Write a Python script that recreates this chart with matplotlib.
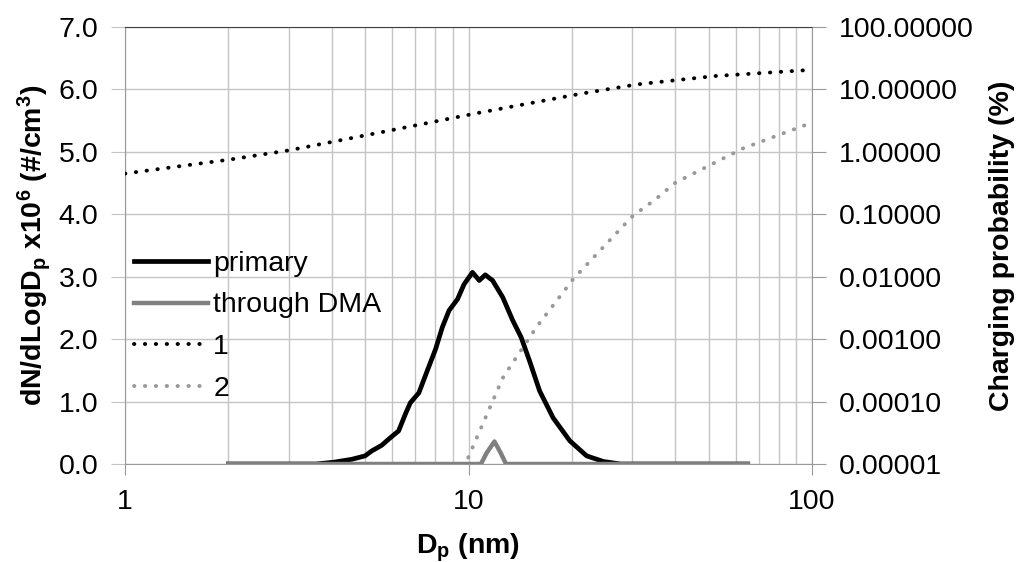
import numpy as np
import matplotlib
matplotlib.use("Agg")
import matplotlib.pyplot as plt
from matplotlib.ticker import FixedLocator, FuncFormatter, NullFormatter

plt.rcParams['font.family'] = ['Liberation Sans', 'DejaVu Sans']
plt.rcParams['mathtext.fontset'] = 'custom'
plt.rcParams['mathtext.rm'] = 'Liberation Sans'
plt.rcParams['mathtext.bf'] = 'Liberation Sans:bold'
plt.rcParams['mathtext.it'] = 'Liberation Sans:italic'

# ---- data ----
primary_dp = [2.0, 3.0, 3.6, 4.07, 4.57, 5.0, 5.23, 5.59, 5.92, 6.26, 6.55, 6.77, 7.17, 7.58,
              8.02, 8.39, 8.78, 9.29, 9.71, 10.27, 10.75, 11.19, 11.75, 12.58, 13.45,
              14.23, 15.06, 16.11, 17.63, 19.73, 22.08, 24.7, 27.7, 40.0, 65.0]
primary_n = [0.0, 0.0, 0.0, 0.03, 0.075, 0.13, 0.21, 0.30, 0.42, 0.53, 0.80, 0.98, 1.14, 1.49,
             1.84, 2.19, 2.46, 2.64, 2.88, 3.07, 2.94, 3.03, 2.94, 2.67, 2.30,
             2.03, 1.65, 1.17, 0.74, 0.37, 0.13, 0.04, 0.0, 0.0, 0.0]

dma_dp = [2.0, 5.0, 10.5, 10.87, 11.3, 11.9, 12.4, 12.86, 13.5, 30.0, 65.0]
dma_n = [0.0, 0.0, 0.0, 0.0, 0.18, 0.36, 0.18, 0.0, 0.0, 0.0, 0.0]

charge1_dp = [1.0, 2.01, 3.01, 5.05, 10.1, 20.6, 30.8, 51.4, 97.0]
charge1_p = [0.449, 0.75, 1.06, 1.85, 3.97, 8.3, 12.0, 16.3, 20.4]

charge2_dp = [9.98, 12.6, 15.76, 20.2, 30.0, 34.9, 40.0, 62.8, 98.4]
charge2_p = [1.27e-5, 2.44e-4, 1.55e-3, 9.25e-3, 0.093, 0.171, 0.32, 1.13, 2.85]

left_ticks = [0, 1, 2, 3, 4, 5, 6, 7]
right_ticks = [1e-5, 1e-4, 1e-3, 1e-2, 1e-1, 1, 10, 100]
x_ticks = [1, 10, 100]

# smooth interpolation in log-space for the dotted curves (for rendering only)
def logcurve(xs, ys, n=200):
    lx = np.log10(xs)
    ly = np.log10(ys)
    gx = np.linspace(lx[0], lx[-1], n)
    return 10 ** gx, 10 ** np.interp(gx, lx, ly)

fig = plt.figure(figsize=(10.19, 5.62), dpi=100)
ax = fig.add_axes([125/1019, 1-464/562, (812-125)/1019, (464-27)/562])
ax2 = ax.twinx()

fs = 20.5
grid_c = '#c4c4c4'

ax.set_xscale('log')
ax.set_xlim(1, 100)
ax.set_ylim(0, 7)
ax.set_yticks(left_ticks)
ax.yaxis.set_major_formatter(FuncFormatter(lambda v, p: f"{v:.1f}"))
ax.xaxis.set_major_locator(FixedLocator(x_ticks))
ax.xaxis.set_major_formatter(FuncFormatter(lambda v, p: f"{v:g}"))
ax.xaxis.set_minor_formatter(NullFormatter())
ax.grid(True, which='both', axis='x', color=grid_c, lw=1.0)
ax.grid(True, which='major', axis='y', color=grid_c, lw=1.0)
ax.tick_params(axis='x', which='minor', length=0)
ax.tick_params(axis='x', which='major', length=8, color='#999999', labelsize=fs, pad=10)
ax.tick_params(axis='y', length=10, color=grid_c, labelsize=fs, pad=9)
ax.set_axisbelow(True)

for s in ['left', 'bottom', 'right']:
    ax.spines[s].set_color('#999999')
ax.spines['top'].set_color('#404040')

l_prim, = ax.plot(primary_dp, primary_n, color='black', lw=3.4, label='primary', zorder=3)
l_dma, = ax.plot(dma_dp, dma_n, color='#808080', lw=3.2, label='through DMA', zorder=4)

ax2.set_yscale('log')
ax2.set_ylim(1e-5, 100)
ax2.yaxis.set_major_locator(FixedLocator(right_ticks))
ax2.yaxis.set_minor_locator(FixedLocator([]))
ax2.yaxis.set_major_formatter(FuncFormatter(lambda v, p: f"{v:.5f}"))
ax2.tick_params(axis='y', length=10, color='#999999', labelsize=fs, pad=9)
for s in ['left', 'bottom', 'right', 'top']:
    ax2.spines[s].set_visible(False)

x1, y1 = logcurve(charge1_dp, charge1_p)
x2, y2 = logcurve(charge2_dp, charge2_p)
l_c1, = ax2.plot(x1, y1, color='black', lw=2.8, linestyle=(0, (0.1, 2.7)),
                 dash_capstyle='round', label='1')
l_c2, = ax2.plot(x2, y2, color='#999999', lw=2.8, linestyle=(0, (0.1, 2.7)),
                 dash_capstyle='round', label='2')

ax.set_ylabel(r"dN/dLogD$_\mathbf{p}$ x10$^\mathbf{6}$ (#/cm$^\mathbf{3}$)",
              fontsize=fs, fontweight='bold', labelpad=4)
ax2.set_ylabel("Charging probability (%)", fontsize=fs, fontweight='bold', labelpad=11)
ax.set_xlabel(r"D$_\mathbf{p}$ (nm)", fontsize=fs, fontweight='bold', labelpad=12)

leg = ax2.legend(handles=[l_prim, l_dma, l_c1, l_c2], loc='upper left',
                 bbox_to_anchor=(0.0, 0.508), frameon=False, fontsize=fs,
                 handlelength=2.6, handletextpad=0.2, labelspacing=0.56,
                 borderaxespad=0.0, borderpad=0.3)

fig.savefig('out.png', dpi=100)
